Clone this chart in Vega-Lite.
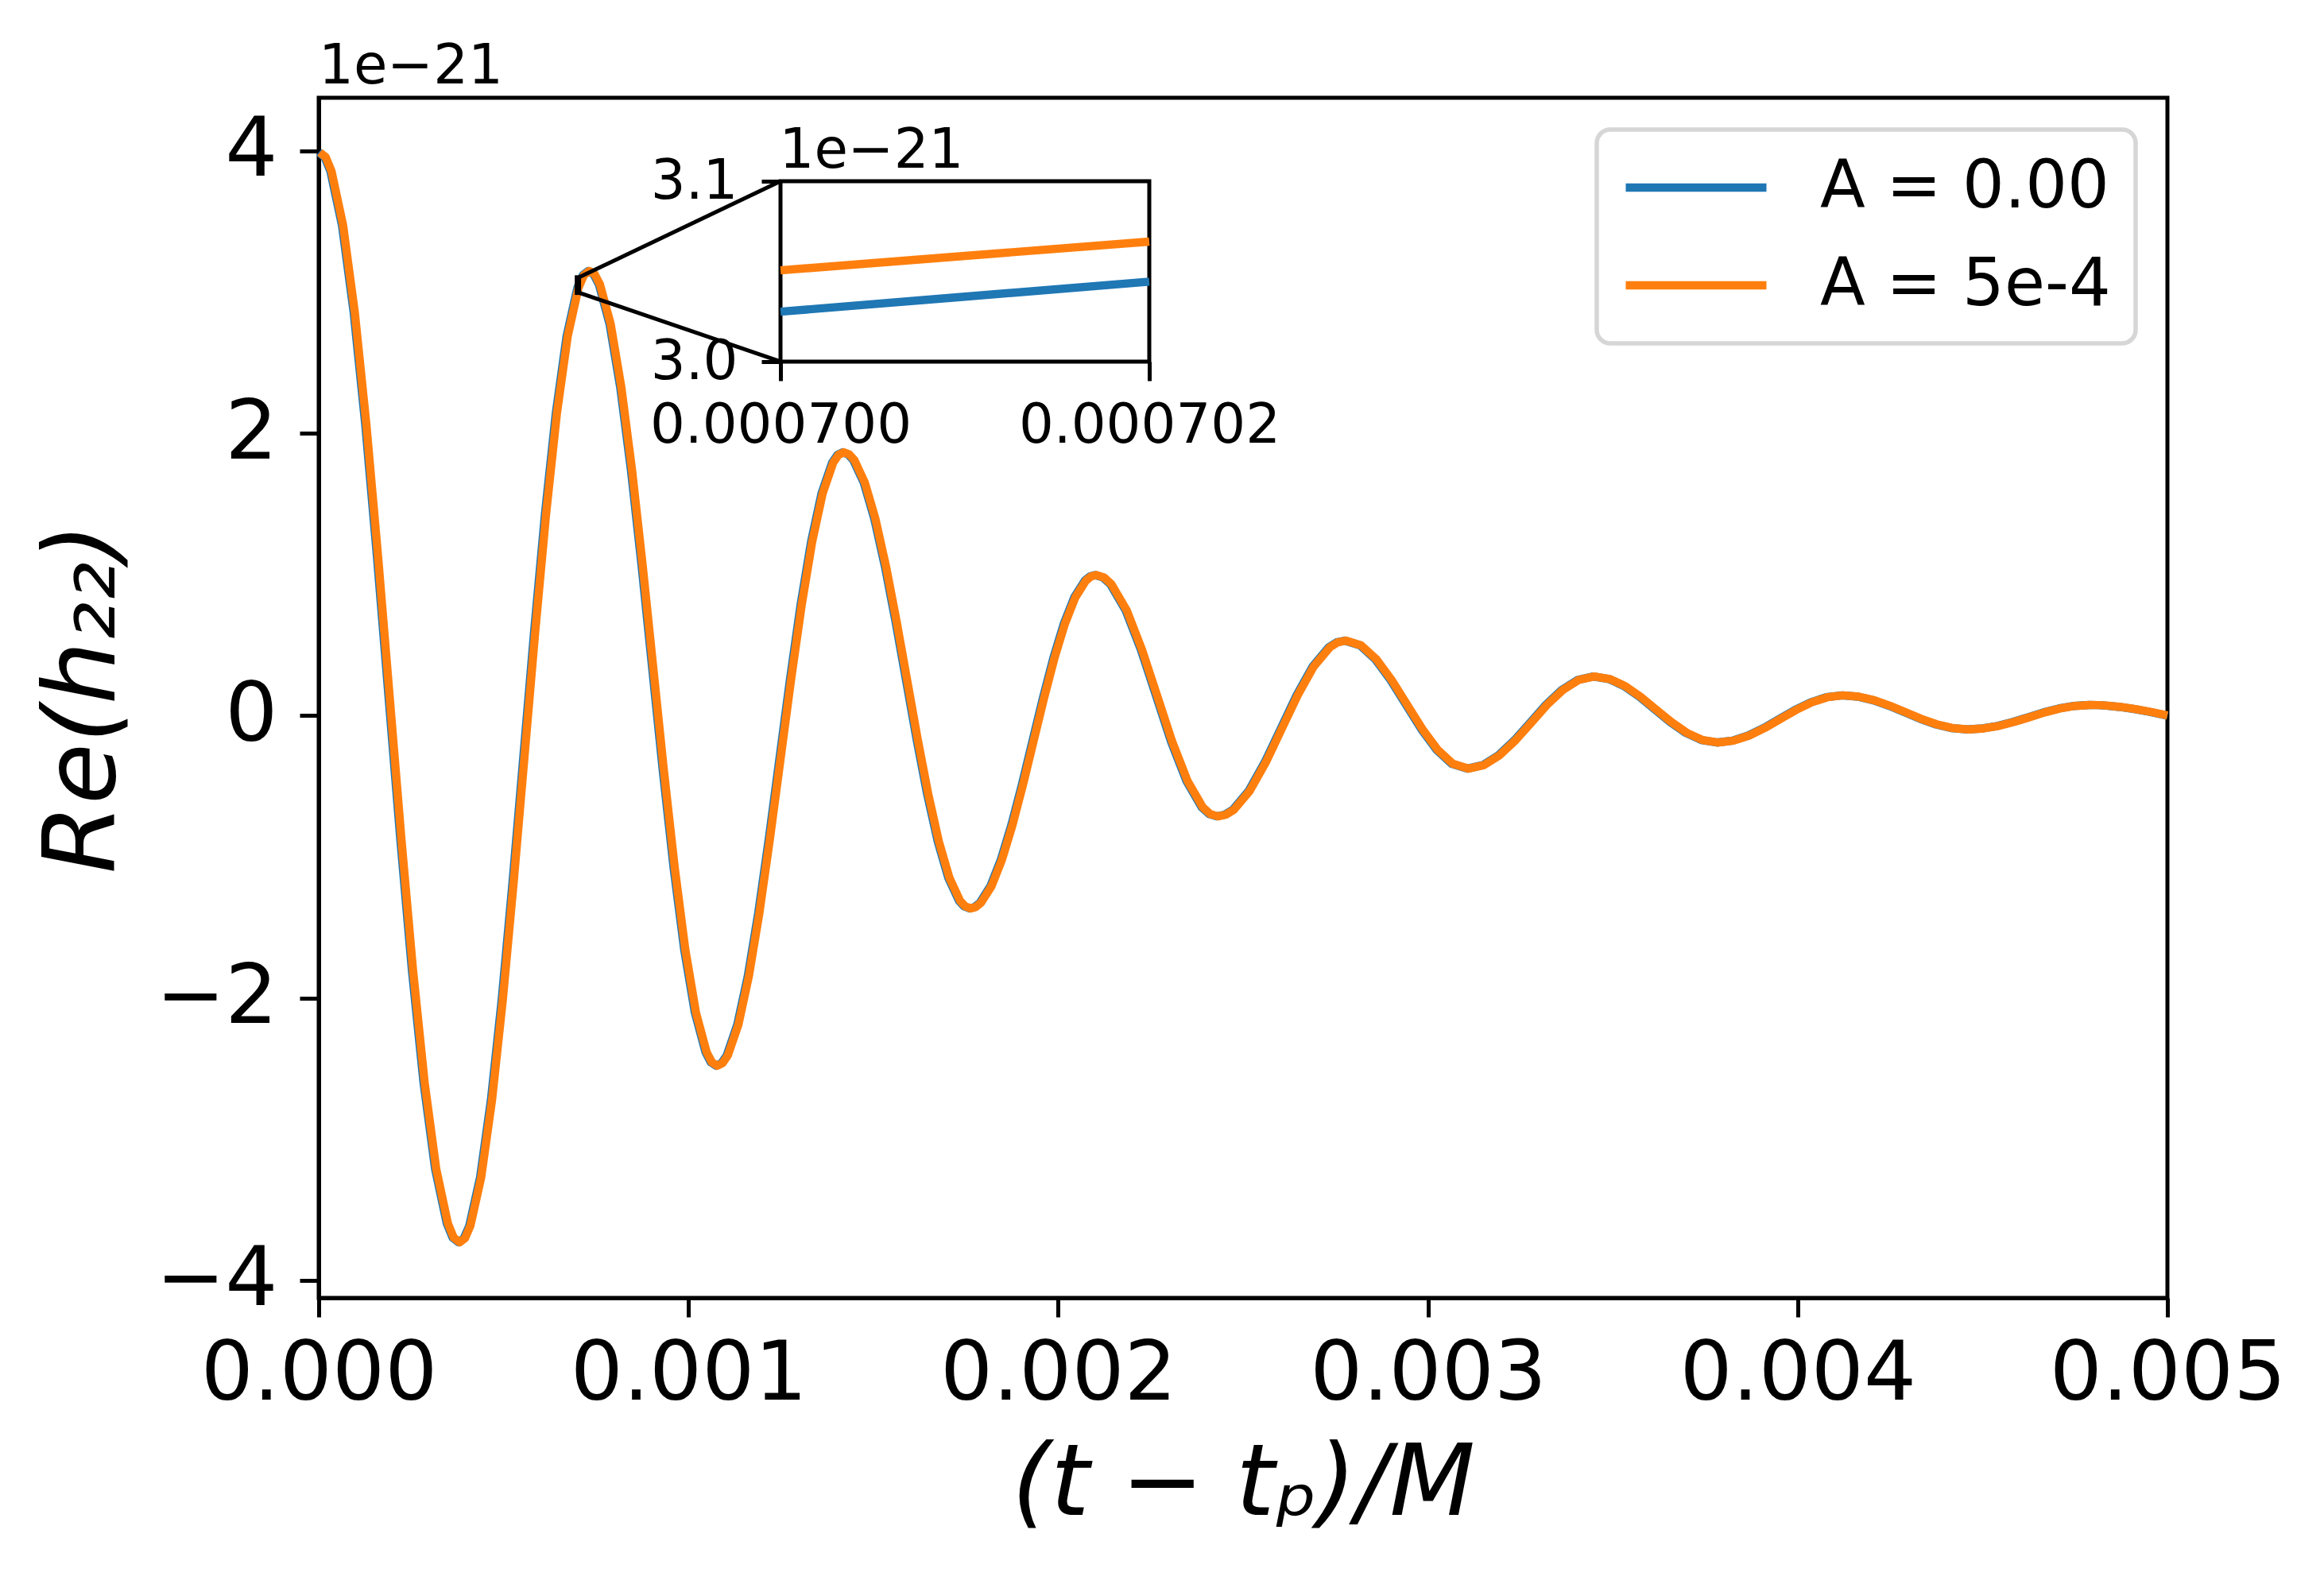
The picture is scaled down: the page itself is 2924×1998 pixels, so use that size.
{
  "$schema": "https://vega.github.io/schema/vega-lite/v6.json",
  "autosize": {"type": "none"},
  "width": 2326,
  "height": 1510,
  "padding": {"left": 401, "top": 123, "right": 197, "bottom": 365},
  "background": "white",
  "config": {
    "view": {"stroke": "black", "strokeWidth": 5},
    "font": "DejaVu Sans",
    "axis": {"grid": false, "labelFont": "DejaVu Sans", "titleFont": "DejaVu Sans", "labelColor": "black", "titleColor": "black", "tickColor": "black", "domainColor": "black", "labelFlush": false, "labelLimit": 2000, "titleLimit": 3000}
  },
  "title": {"text": "1e−21", "anchor": "start", "frame": "group", "fontSize": 69, "font": "DejaVu Sans", "fontWeight": "normal", "color": "black", "offset": 4},
  "datasets": {
    "main": [
      {"s":"A = 0.00","t":0,"h":3.99},{"s":"A = 0.00","t":0.0000315,"h":3.858},{"s":"A = 0.00","t":0.000063,"h":3.473},{"s":"A = 0.00","t":0.0000945,"h":2.859},{"s":"A = 0.00","t":0.000126,"h":2.06},{"s":"A = 0.00","t":0.0001575,"h":1.129},{"s":"A = 0.00","t":0.000189,"h":0.13},{"s":"A = 0.00","t":0.0002205,"h":-0.869},{"s":"A = 0.00","t":0.000252,"h":-1.8},{"s":"A = 0.00","t":0.0002835,"h":-2.599},{"s":"A = 0.00","t":0.000315,"h":-3.213},{"s":"A = 0.00","t":0.0003465,"h":-3.598},
      {"s":"A = 0.00","t":0.000378,"h":-3.73},{"s":"A = 0.00","t":0.00040725,"h":-3.613},{"s":"A = 0.00","t":0.0004365,"h":-3.269},{"s":"A = 0.00","t":0.00046575,"h":-2.722},{"s":"A = 0.00","t":0.000495,"h":-2.01},{"s":"A = 0.00","t":0.00052425,"h":-1.18},{"s":"A = 0.00","t":0.0005535,"h":-0.29},{"s":"A = 0.00","t":0.00058275,"h":0.6},{"s":"A = 0.00","t":0.000612,"h":1.43},{"s":"A = 0.00","t":0.00064125,"h":2.142},{"s":"A = 0.00","t":0.0006705,"h":2.689},{"s":"A = 0.00","t":0.00069975,"h":3.033},
      {"s":"A = 0.00","t":0.000729,"h":3.15},{"s":"A = 0.00","t":0.0007578,"h":3.054},{"s":"A = 0.00","t":0.0007867,"h":2.773},{"s":"A = 0.00","t":0.0008155,"h":2.326},{"s":"A = 0.00","t":0.0008443,"h":1.743},{"s":"A = 0.00","t":0.0008732,"h":1.064},{"s":"A = 0.00","t":0.000902,"h":0.335},{"s":"A = 0.00","t":0.0009308,"h":-0.394},{"s":"A = 0.00","t":0.0009597,"h":-1.073},{"s":"A = 0.00","t":0.0009885,"h":-1.656},{"s":"A = 0.00","t":0.0010173,"h":-2.103},{"s":"A = 0.00","t":0.0010462,"h":-2.384},
      {"s":"A = 0.00","t":0.001075,"h":-2.48},{"s":"A = 0.00","t":0.0011035,"h":-2.406},{"s":"A = 0.00","t":0.001132,"h":-2.189},{"s":"A = 0.00","t":0.0011605,"h":-1.844},{"s":"A = 0.00","t":0.001189,"h":-1.394},{"s":"A = 0.00","t":0.0012175,"h":-0.869},{"s":"A = 0.00","t":0.001246,"h":-0.307},{"s":"A = 0.00","t":0.0012745,"h":0.255},{"s":"A = 0.00","t":0.001303,"h":0.78},{"s":"A = 0.00","t":0.0013315,"h":1.23},{"s":"A = 0.00","t":0.00136,"h":1.575},{"s":"A = 0.00","t":0.0013885,"h":1.792},
      {"s":"A = 0.00","t":0.001417,"h":1.866},{"s":"A = 0.00","t":0.0014456,"h":1.811},{"s":"A = 0.00","t":0.0014742,"h":1.65},{"s":"A = 0.00","t":0.0015028,"h":1.393},{"s":"A = 0.00","t":0.0015313,"h":1.058},{"s":"A = 0.00","t":0.0015599,"h":0.669},{"s":"A = 0.00","t":0.0015885,"h":0.251},{"s":"A = 0.00","t":0.0016171,"h":-0.168},{"s":"A = 0.00","t":0.0016457,"h":-0.557},{"s":"A = 0.00","t":0.0016743,"h":-0.892},{"s":"A = 0.00","t":0.0017028,"h":-1.149},{"s":"A = 0.00","t":0.0017314,"h":-1.31},
      {"s":"A = 0.00","t":0.00176,"h":-1.365},{"s":"A = 0.00","t":0.0017883,"h":-1.325},{"s":"A = 0.00","t":0.0018167,"h":-1.207},{"s":"A = 0.00","t":0.001845,"h":-1.019},{"s":"A = 0.00","t":0.0018733,"h":-0.775},{"s":"A = 0.00","t":0.0019017,"h":-0.49},{"s":"A = 0.00","t":0.00193,"h":-0.185},{"s":"A = 0.00","t":0.0019583,"h":0.121},{"s":"A = 0.00","t":0.0019867,"h":0.406},{"s":"A = 0.00","t":0.002015,"h":0.65},{"s":"A = 0.00","t":0.0020433,"h":0.838},{"s":"A = 0.00","t":0.0020717,"h":0.956},
      {"s":"A = 0.00","t":0.0021,"h":0.996},{"s":"A = 0.00","t":0.0021411,"h":0.931},{"s":"A = 0.00","t":0.0021823,"h":0.746},{"s":"A = 0.00","t":0.0022234,"h":0.469},{"s":"A = 0.00","t":0.0022645,"h":0.142},{"s":"A = 0.00","t":0.0023056,"h":-0.186},{"s":"A = 0.00","t":0.0023468,"h":-0.463},{"s":"A = 0.00","t":0.0023879,"h":-0.648},
      {"s":"A = 0.00","t":0.002429,"h":-0.713},{"s":"A = 0.00","t":0.0024723,"h":-0.666},{"s":"A = 0.00","t":0.0025155,"h":-0.531},{"s":"A = 0.00","t":0.0025588,"h":-0.329},{"s":"A = 0.00","t":0.002602,"h":-0.091},{"s":"A = 0.00","t":0.0026453,"h":0.148},{"s":"A = 0.00","t":0.0026885,"h":0.35},{"s":"A = 0.00","t":0.0027318,"h":0.485},
      {"s":"A = 0.00","t":0.002775,"h":0.532},{"s":"A = 0.00","t":0.0028164,"h":0.498},{"s":"A = 0.00","t":0.0028578,"h":0.399},{"s":"A = 0.00","t":0.0028991,"h":0.252},{"s":"A = 0.00","t":0.0029405,"h":0.079},{"s":"A = 0.00","t":0.0029819,"h":-0.095},{"s":"A = 0.00","t":0.0030233,"h":-0.242},{"s":"A = 0.00","t":0.0030646,"h":-0.341},
      {"s":"A = 0.00","t":0.003106,"h":-0.375},{"s":"A = 0.00","t":0.0031486,"h":-0.35},{"s":"A = 0.00","t":0.0031913,"h":-0.279},{"s":"A = 0.00","t":0.0032339,"h":-0.174},{"s":"A = 0.00","t":0.0032765,"h":-0.049},{"s":"A = 0.00","t":0.0033191,"h":0.077},{"s":"A = 0.00","t":0.0033618,"h":0.182},{"s":"A = 0.00","t":0.0034044,"h":0.253},
      {"s":"A = 0.00","t":0.003447,"h":0.278},{"s":"A = 0.00","t":0.0034888,"h":0.26},{"s":"A = 0.00","t":0.0035305,"h":0.21},{"s":"A = 0.00","t":0.0035723,"h":0.134},{"s":"A = 0.00","t":0.003614,"h":0.044},{"s":"A = 0.00","t":0.0036558,"h":-0.046},{"s":"A = 0.00","t":0.0036975,"h":-0.122},{"s":"A = 0.00","t":0.0037393,"h":-0.172},
      {"s":"A = 0.00","t":0.003781,"h":-0.19},{"s":"A = 0.00","t":0.0038234,"h":-0.177},{"s":"A = 0.00","t":0.0038658,"h":-0.141},{"s":"A = 0.00","t":0.0039081,"h":-0.087},{"s":"A = 0.00","t":0.0039505,"h":-0.023},{"s":"A = 0.00","t":0.0039929,"h":0.041},{"s":"A = 0.00","t":0.0040353,"h":0.095},{"s":"A = 0.00","t":0.0040776,"h":0.131},
      {"s":"A = 0.00","t":0.00412,"h":0.144},{"s":"A = 0.00","t":0.0041624,"h":0.135},{"s":"A = 0.00","t":0.0042048,"h":0.109},{"s":"A = 0.00","t":0.0042471,"h":0.07},{"s":"A = 0.00","t":0.0042895,"h":0.024},{"s":"A = 0.00","t":0.0043319,"h":-0.023},{"s":"A = 0.00","t":0.0043743,"h":-0.062},{"s":"A = 0.00","t":0.0044166,"h":-0.088},
      {"s":"A = 0.00","t":0.004459,"h":-0.097},{"s":"A = 0.00","t":0.0045001,"h":-0.09},{"s":"A = 0.00","t":0.0045413,"h":-0.072},{"s":"A = 0.00","t":0.0045824,"h":-0.044},{"s":"A = 0.00","t":0.0046235,"h":-0.011},{"s":"A = 0.00","t":0.0046646,"h":0.023},{"s":"A = 0.00","t":0.0047058,"h":0.051},{"s":"A = 0.00","t":0.0047469,"h":0.069},
      {"s":"A = 0.00","t":0.004788,"h":0.076},{"s":"A = 0.00","t":0.00481,"h":0.075},{"s":"A = 0.00","t":0.00483,"h":0.072},{"s":"A = 0.00","t":0.00487,"h":0.062},{"s":"A = 0.00","t":0.00491,"h":0.047},{"s":"A = 0.00","t":0.00495,"h":0.028},{"s":"A = 0.00","t":0.005,"h":0.0},
      {"s":"A = 0.00","t":0.00001575,"h":3.957},{"s":"A = 0.00","t":0.00036225,"h":-3.697},{"s":"A = 0.00","t":0.000392625,"h":-3.701},{"s":"A = 0.00","t":0.000714375,"h":3.121},{"s":"A = 0.00","t":0.0007434,"h":3.126},{"s":"A = 0.00","t":0.0010606,"h":-2.456},{"s":"A = 0.00","t":0.00108925,"h":-2.461},{"s":"A = 0.00","t":0.00140275,"h":1.847},{"s":"A = 0.00","t":0.0014313,"h":1.852},{"s":"A = 0.00","t":0.0017457,"h":-1.351},{"s":"A = 0.00","t":0.0017742,"h":-1.355},{"s":"A = 0.00","t":0.0020858,"h":0.986},{"s":"A = 0.00","t":0.0021206,"h":0.98},{"s":"A = 0.00","t":0.0024084,"h":-0.697},{"s":"A = 0.00","t":0.0024506,"h":-0.701},{"s":"A = 0.00","t":0.0027534,"h":0.52},
      {"s":"A = 5e-4","t":0.000003,"h":3.99},{"s":"A = 5e-4","t":0.0000345,"h":3.858},{"s":"A = 5e-4","t":0.000066,"h":3.473},{"s":"A = 5e-4","t":0.0000975,"h":2.859},{"s":"A = 5e-4","t":0.000129,"h":2.06},{"s":"A = 5e-4","t":0.0001605,"h":1.129},{"s":"A = 5e-4","t":0.000192,"h":0.13},{"s":"A = 5e-4","t":0.0002235,"h":-0.869},{"s":"A = 5e-4","t":0.000255,"h":-1.8},{"s":"A = 5e-4","t":0.0002865,"h":-2.599},{"s":"A = 5e-4","t":0.000318,"h":-3.213},{"s":"A = 5e-4","t":0.0003495,"h":-3.598},
      {"s":"A = 5e-4","t":0.000381,"h":-3.73},{"s":"A = 5e-4","t":0.00041025,"h":-3.613},{"s":"A = 5e-4","t":0.0004395,"h":-3.269},{"s":"A = 5e-4","t":0.00046875,"h":-2.722},{"s":"A = 5e-4","t":0.000498,"h":-2.01},{"s":"A = 5e-4","t":0.00052725,"h":-1.18},{"s":"A = 5e-4","t":0.0005565,"h":-0.29},{"s":"A = 5e-4","t":0.00058575,"h":0.6},{"s":"A = 5e-4","t":0.000615,"h":1.43},{"s":"A = 5e-4","t":0.00064425,"h":2.142},{"s":"A = 5e-4","t":0.0006735,"h":2.689},{"s":"A = 5e-4","t":0.00070275,"h":3.033},
      {"s":"A = 5e-4","t":0.000732,"h":3.15},{"s":"A = 5e-4","t":0.0007608,"h":3.054},{"s":"A = 5e-4","t":0.0007897,"h":2.773},{"s":"A = 5e-4","t":0.0008185,"h":2.326},{"s":"A = 5e-4","t":0.0008473,"h":1.743},{"s":"A = 5e-4","t":0.0008762,"h":1.064},{"s":"A = 5e-4","t":0.000905,"h":0.335},{"s":"A = 5e-4","t":0.0009338,"h":-0.394},{"s":"A = 5e-4","t":0.0009627,"h":-1.073},{"s":"A = 5e-4","t":0.0009915,"h":-1.656},{"s":"A = 5e-4","t":0.0010203,"h":-2.103},{"s":"A = 5e-4","t":0.0010492,"h":-2.384},
      {"s":"A = 5e-4","t":0.001078,"h":-2.48},{"s":"A = 5e-4","t":0.0011065,"h":-2.406},{"s":"A = 5e-4","t":0.001135,"h":-2.189},{"s":"A = 5e-4","t":0.0011635,"h":-1.844},{"s":"A = 5e-4","t":0.001192,"h":-1.394},{"s":"A = 5e-4","t":0.0012205,"h":-0.869},{"s":"A = 5e-4","t":0.001249,"h":-0.307},{"s":"A = 5e-4","t":0.0012775,"h":0.255},{"s":"A = 5e-4","t":0.001306,"h":0.78},{"s":"A = 5e-4","t":0.0013345,"h":1.23},{"s":"A = 5e-4","t":0.001363,"h":1.575},{"s":"A = 5e-4","t":0.0013915,"h":1.792},
      {"s":"A = 5e-4","t":0.00142,"h":1.866},{"s":"A = 5e-4","t":0.0014486,"h":1.811},{"s":"A = 5e-4","t":0.0014772,"h":1.65},{"s":"A = 5e-4","t":0.0015058,"h":1.393},{"s":"A = 5e-4","t":0.0015343,"h":1.058},{"s":"A = 5e-4","t":0.0015629,"h":0.669},{"s":"A = 5e-4","t":0.0015915,"h":0.251},{"s":"A = 5e-4","t":0.0016201,"h":-0.168},{"s":"A = 5e-4","t":0.0016487,"h":-0.557},{"s":"A = 5e-4","t":0.0016773,"h":-0.892},{"s":"A = 5e-4","t":0.0017058,"h":-1.149},{"s":"A = 5e-4","t":0.0017344,"h":-1.31},
      {"s":"A = 5e-4","t":0.001763,"h":-1.365},{"s":"A = 5e-4","t":0.0017913,"h":-1.325},{"s":"A = 5e-4","t":0.0018197,"h":-1.207},{"s":"A = 5e-4","t":0.001848,"h":-1.019},{"s":"A = 5e-4","t":0.0018763,"h":-0.775},{"s":"A = 5e-4","t":0.0019047,"h":-0.49},{"s":"A = 5e-4","t":0.001933,"h":-0.185},{"s":"A = 5e-4","t":0.0019613,"h":0.121},{"s":"A = 5e-4","t":0.0019897,"h":0.406},{"s":"A = 5e-4","t":0.002018,"h":0.65},{"s":"A = 5e-4","t":0.0020463,"h":0.838},{"s":"A = 5e-4","t":0.0020747,"h":0.956},
      {"s":"A = 5e-4","t":0.002103,"h":0.996},{"s":"A = 5e-4","t":0.0021441,"h":0.931},{"s":"A = 5e-4","t":0.0021853,"h":0.746},{"s":"A = 5e-4","t":0.0022264,"h":0.469},{"s":"A = 5e-4","t":0.0022675,"h":0.142},{"s":"A = 5e-4","t":0.0023086,"h":-0.186},{"s":"A = 5e-4","t":0.0023498,"h":-0.463},{"s":"A = 5e-4","t":0.0023909,"h":-0.648},
      {"s":"A = 5e-4","t":0.002432,"h":-0.713},{"s":"A = 5e-4","t":0.0024753,"h":-0.666},{"s":"A = 5e-4","t":0.0025185,"h":-0.531},{"s":"A = 5e-4","t":0.0025618,"h":-0.329},{"s":"A = 5e-4","t":0.002605,"h":-0.091},{"s":"A = 5e-4","t":0.0026483,"h":0.148},{"s":"A = 5e-4","t":0.0026915,"h":0.35},{"s":"A = 5e-4","t":0.0027348,"h":0.485},
      {"s":"A = 5e-4","t":0.002778,"h":0.532},{"s":"A = 5e-4","t":0.0028194,"h":0.498},{"s":"A = 5e-4","t":0.0028608,"h":0.399},{"s":"A = 5e-4","t":0.0029021,"h":0.252},{"s":"A = 5e-4","t":0.0029435,"h":0.079},{"s":"A = 5e-4","t":0.0029849,"h":-0.095},{"s":"A = 5e-4","t":0.0030263,"h":-0.242},{"s":"A = 5e-4","t":0.0030676,"h":-0.341},
      {"s":"A = 5e-4","t":0.003109,"h":-0.375},{"s":"A = 5e-4","t":0.0031516,"h":-0.35},{"s":"A = 5e-4","t":0.0031943,"h":-0.279},{"s":"A = 5e-4","t":0.0032369,"h":-0.174},{"s":"A = 5e-4","t":0.0032795,"h":-0.049},{"s":"A = 5e-4","t":0.0033221,"h":0.077},{"s":"A = 5e-4","t":0.0033648,"h":0.182},{"s":"A = 5e-4","t":0.0034074,"h":0.253},
      {"s":"A = 5e-4","t":0.00345,"h":0.278},{"s":"A = 5e-4","t":0.0034918,"h":0.26},{"s":"A = 5e-4","t":0.0035335,"h":0.21},{"s":"A = 5e-4","t":0.0035753,"h":0.134},{"s":"A = 5e-4","t":0.003617,"h":0.044},{"s":"A = 5e-4","t":0.0036588,"h":-0.046},{"s":"A = 5e-4","t":0.0037005,"h":-0.122},{"s":"A = 5e-4","t":0.0037423,"h":-0.172},
      {"s":"A = 5e-4","t":0.003784,"h":-0.19},{"s":"A = 5e-4","t":0.0038264,"h":-0.177},{"s":"A = 5e-4","t":0.0038688,"h":-0.141},{"s":"A = 5e-4","t":0.0039111,"h":-0.087},{"s":"A = 5e-4","t":0.0039535,"h":-0.023},{"s":"A = 5e-4","t":0.0039959,"h":0.041},{"s":"A = 5e-4","t":0.0040383,"h":0.095},{"s":"A = 5e-4","t":0.0040806,"h":0.131},
      {"s":"A = 5e-4","t":0.004123,"h":0.144},{"s":"A = 5e-4","t":0.0041654,"h":0.135},{"s":"A = 5e-4","t":0.0042078,"h":0.109},{"s":"A = 5e-4","t":0.0042501,"h":0.07},{"s":"A = 5e-4","t":0.0042925,"h":0.024},{"s":"A = 5e-4","t":0.0043349,"h":-0.023},{"s":"A = 5e-4","t":0.0043773,"h":-0.062},{"s":"A = 5e-4","t":0.0044196,"h":-0.088},
      {"s":"A = 5e-4","t":0.004462,"h":-0.097},{"s":"A = 5e-4","t":0.0045031,"h":-0.09},{"s":"A = 5e-4","t":0.0045443,"h":-0.072},{"s":"A = 5e-4","t":0.0045854,"h":-0.044},{"s":"A = 5e-4","t":0.0046265,"h":-0.011},{"s":"A = 5e-4","t":0.0046676,"h":0.023},{"s":"A = 5e-4","t":0.0047088,"h":0.051},{"s":"A = 5e-4","t":0.0047499,"h":0.069},
      {"s":"A = 5e-4","t":0.004791,"h":0.076},{"s":"A = 5e-4","t":0.004813,"h":0.075},{"s":"A = 5e-4","t":0.004833,"h":0.072},{"s":"A = 5e-4","t":0.004873,"h":0.062},{"s":"A = 5e-4","t":0.004913,"h":0.047},{"s":"A = 5e-4","t":0.004953,"h":0.028},{"s":"A = 5e-4","t":0.005,"h":0.002},
      {"s":"A = 5e-4","t":0.00001875,"h":3.957},{"s":"A = 5e-4","t":0.00036525,"h":-3.697},{"s":"A = 5e-4","t":0.000395625,"h":-3.701},{"s":"A = 5e-4","t":0.000717375,"h":3.121},{"s":"A = 5e-4","t":0.0007464,"h":3.126},{"s":"A = 5e-4","t":0.0010636,"h":-2.456},{"s":"A = 5e-4","t":0.00109225,"h":-2.461},{"s":"A = 5e-4","t":0.00140575,"h":1.847},{"s":"A = 5e-4","t":0.0014343,"h":1.852},{"s":"A = 5e-4","t":0.0017487,"h":-1.351},{"s":"A = 5e-4","t":0.0017772,"h":-1.355},{"s":"A = 5e-4","t":0.0020888,"h":0.986},{"s":"A = 5e-4","t":0.0021236,"h":0.98},{"s":"A = 5e-4","t":0.0024114,"h":-0.697},{"s":"A = 5e-4","t":0.0024536,"h":-0.701},{"s":"A = 5e-4","t":0.0027564,"h":0.52}
    ],
    "inset": [
      {"s":"A = 0.00","t":0.0007,"h":3.0277},{"s":"A = 0.00","t":0.000701,"h":3.036},{"s":"A = 0.00","t":0.000702,"h":3.0443},
      {"s":"A = 5e-4","t":0.0007,"h":3.0506},{"s":"A = 5e-4","t":0.000701,"h":3.0586},{"s":"A = 5e-4","t":0.000702,"h":3.0665}
    ],
    "connectors": [
      {"x":0.0007,"y":3.1,"x2":0.0012489,"y2":3.786},
      {"x":0.0007,"y":3.0,"x2":0.0012489,"y2":2.508}
    ],
    "zoombox": [
      {"x":0.0007,"x2":0.000702,"y":3.0,"y2":3.1}
    ]
  },
  "layer": [
    {
      "data": {"name": "main"},
      "mark": {"type": "line", "strokeWidth": 10.4, "strokeJoin": "round"},
      "encoding": {
        "x": {"field": "t", "type": "quantitative",
          "scale": {"domain": [0, 0.005], "nice": false, "zero": false},
          "axis": {"values": [0, 0.001, 0.002, 0.003, 0.004, 0.005], "format": ".3f", "labelFontSize": 104, "tickSize": 24, "tickWidth": 5, "domainWidth": 5, "labelPadding": 21, "labelLimit": 2000,
            "title": "(t − tₚ)/M", "titleFontSize": 125, "titleFontStyle": "italic", "titleFontWeight": "normal", "titleY": 234, "titleBaseline": "middle"}},
        "y": {"field": "h", "type": "quantitative",
          "scale": {"domain": [-4.124, 4.377], "nice": false, "zero": false},
          "axis": {"values": [-4, -2, 0, 2, 4], "format": "d", "labelFontSize": 104, "tickSize": 24, "tickWidth": 5, "domainWidth": 5, "labelPadding": 28, "labelLimit": 2000,
            "title": "Re(h₂₂)", "titleFontSize": 125, "titleFontStyle": "italic", "titleFontWeight": "normal", "titleX": -296, "titleBaseline": "middle"}},
        "color": {"field": "s", "type": "nominal",
          "scale": {"domain": ["A = 0.00", "A = 5e-4"], "range": ["#1f77b4", "#ff7f0e"]},
          "legend": {"title": null, "orient": "top-right", "offset": 40, "padding": 31, "fillColor": "white", "strokeColor": "#d6d6d6", "cornerRadius": 17,
            "labelFontSize": 83, "labelFont": "DejaVu Sans", "labelColor": "black", "labelOffset": 62, "labelLimit": 1000,
            "symbolType": "stroke", "symbolSize": 31329, "symbolStrokeWidth": 10.4, "rowPadding": 39,
            "encode": {"legend": {"update": {"strokeWidth": {"value": 5.5}}}, "symbols": {"update": {"y": {"value": 42}}}, "labels": {"update": {"y": {"value": 42}}}}}}
      }
    },
    {
      "data": {"name": "connectors"},
      "mark": {"type": "rule", "color": "black", "strokeWidth": 5},
      "encoding": {
        "x": {"field": "x", "type": "quantitative", "scale": {"domain": [0, 0.005], "nice": false, "zero": false}, "axis": null},
        "y": {"field": "y", "type": "quantitative", "scale": {"domain": [-4.124, 4.377], "nice": false, "zero": false}, "axis": null},
        "x2": {"field": "x2"},
        "y2": {"field": "y2"}
      }
    },
    {
      "data": {"name": "zoombox"},
      "mark": {"type": "rect", "fill": null, "fillOpacity": 0, "stroke": "black", "strokeWidth": 7},
      "encoding": {
        "x": {"field": "x", "type": "quantitative", "scale": {"domain": [0, 0.005], "nice": false, "zero": false}, "axis": null},
        "y": {"field": "y", "type": "quantitative", "scale": {"domain": [-4.124, 4.377], "nice": false, "zero": false}, "axis": null},
        "x2": {"field": "x2"},
        "y2": {"field": "y2"}
      }
    },
    {
      "data": {"name": "zoombox"},
      "mark": {"type": "rect", "fill": "white", "stroke": "black", "strokeWidth": 5},
      "encoding": {
        "x": {"field": "x", "type": "quantitative",
          "scale": {"domain": [0.0007, 0.000702], "range": [581, 1045], "nice": false, "zero": false},
          "axis": {"orient": "bottom", "offset": -1178, "values": [0.0007, 0.000702], "format": ".6f", "labelFontSize": 69, "tickSize": 24, "tickWidth": 5, "domain": false, "labelPadding": 22, "labelLimit": 2000, "title": null}},
        "y": {"field": "y", "type": "quantitative",
          "scale": {"domain": [3.0, 3.1], "range": [332, 105], "nice": false, "zero": false},
          "axis": {"orient": "left", "offset": -581, "values": [3.0, 3.1], "format": ".1f", "labelFontSize": 69, "tickSize": 24, "tickWidth": 5, "domain": false, "labelPadding": 30, "labelLimit": 2000,
            "title": "1e−21", "titleFontSize": 69, "titleFontWeight": "normal", "titleAngle": 0, "titleAlign": "left", "titleBaseline": "alphabetic", "titleX": -2, "titleY": 87}},
        "x2": {"field": "x2"},
        "y2": {"field": "y2"}
      }
    },
    {
      "data": {"name": "inset"},
      "mark": {"type": "line", "strokeWidth": 10.4},
      "encoding": {
        "x": {"field": "t", "type": "quantitative", "scale": {"domain": [0.0007, 0.000702], "range": [581, 1045], "nice": false, "zero": false}, "axis": null},
        "y": {"field": "h", "type": "quantitative", "scale": {"domain": [3.0, 3.1], "range": [332, 105], "nice": false, "zero": false}, "axis": null},
        "color": {"field": "s", "type": "nominal", "legend": null}
      }
    }
  ],
  "resolve": {"scale": {"x": "independent", "y": "independent"}}
}
